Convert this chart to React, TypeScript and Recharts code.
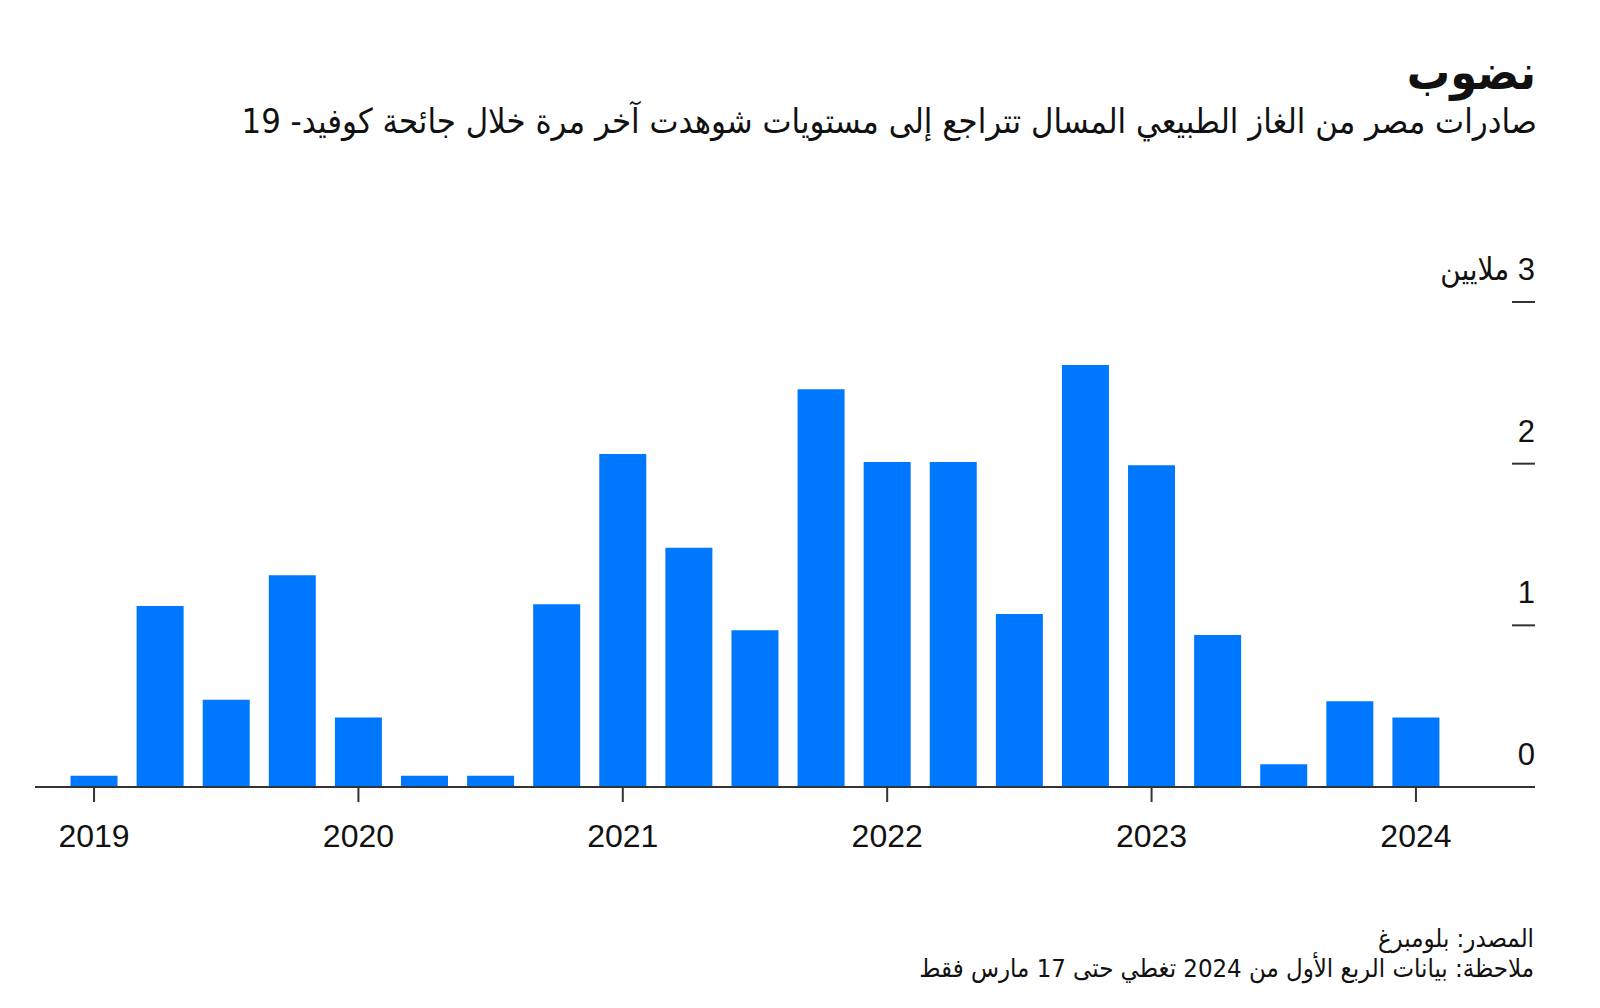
import { BarChart, Bar, XAxis, YAxis } from 'recharts';

// quarterly LNG exports, millions of tonnes
const quarters = [
    '2019 Q1', '2019 Q2', '2019 Q3', '2019 Q4',
    '2020 Q1', '2020 Q2', '2020 Q3', '2020 Q4',
    '2021 Q1', '2021 Q2', '2021 Q3', '2021 Q4',
    '2022 Q1', '2022 Q2', '2022 Q3', '2022 Q4',
    '2023 Q1', '2023 Q2', '2023 Q3', '2023 Q4',
    '2024 Q1',
];
const exportsValues = [
    0.07, 1.12, 0.54, 1.31,
    0.43, 0.07, 0.07, 1.13,
    2.06, 1.48, 0.97, 2.46,
    2.01, 2.01, 1.07, 2.61,
    1.99, 0.94, 0.14, 0.53,
    0.43,
];
const yearTicks = ['2019 Q1', '2020 Q1', '2021 Q1', '2022 Q1', '2023 Q1', '2024 Q1'];
const valueTicks = [0, 1, 2, 3];
const unitLabel = 'ملايين';

const title = 'نضوب';
const subtitle = 'صادرات مصر من الغاز الطبيعي المسال تتراجع إلى مستويات شوهدت آخر مرة خلال جائحة كوفيد- 19';
const source = 'المصدر: بلومبرغ';
const note = 'ملاحظة: بيانات الربع الأول من 2024 تغطي حتى 17 مارس فقط';

const data = quarters.map((q, i) => ({ q, value: exportsValues[i] }));

const arabicFont = "'DejaVu Sans Condensed', 'DejaVu Sans', sans-serif";
const numFont = "'Liberation Sans', Arial, sans-serif";
const ink = '#111';

const renderValueTick = (props: any) => {
    const { x, y, payload } = props;
    const label = payload.value === 3 ? `\u200F${payload.value} ${unitLabel}` : `${payload.value}`;
    return (
        <g key={`vt-${payload.value}`}>
            <line x1={x - 23} x2={x} y1={y} y2={y} stroke="#333" strokeWidth={2} />
            <text x={x} y={y - 22} textAnchor="end" fontSize={31} fill={ink} fontFamily={`${numFont}, ${arabicFont}`}>
                {label}
            </text>
        </g>
    );
};

const App = () => {
    return (
        <div style={{ position: 'absolute', left: 0, top: 0, width: 1600, height: 1008, background: '#fff' }}>
            <div dir="rtl" style={{ position: 'absolute', right: 64, top: 44, fontFamily: arabicFont, fontWeight: 'bold', fontSize: 48, color: ink, lineHeight: 1.2 }}>
                {title}
            </div>
            <div dir="rtl" style={{ position: 'absolute', right: 63, top: 101, fontFamily: arabicFont, fontSize: 34.3, color: ink, whiteSpace: 'nowrap', lineHeight: 1.2 }}>
                {subtitle}
            </div>

            <div style={{ position: 'absolute', left: 0, top: 0 }}>
                <BarChart
                    width={1600}
                    height={880}
                    data={data}
                    margin={{ top: 302, right: 64, bottom: 0, left: 35 }}
                    barCategoryGap="14.4%"
                >
                    <XAxis
                        dataKey="q"
                        ticks={yearTicks}
                        interval={0}
                        padding={{ left: 26, right: 86 }}
                        axisLine={{ stroke: '#333', strokeWidth: 2 }}
                        tickLine={{ stroke: '#333', strokeWidth: 2 }}
                        tickSize={15}
                        tickMargin={22}
                        height={93}
                        tick={{ fill: ink, fontSize: 32, fontFamily: numFont }}
                        tickFormatter={(q: string) => q.slice(0, 4)}
                    />
                    <YAxis
                        orientation="right"
                        width={1}
                        domain={[0, 3]}
                        ticks={valueTicks}
                        interval={0}
                        axisLine={false}
                        tickLine={false}
                        tickSize={0}
                        tickMargin={0}
                        tick={renderValueTick}
                    />
                    <Bar dataKey="value" fill="#0077ff" isAnimationActive={false} />
                </BarChart>
            </div>

            <div dir="rtl" style={{ position: 'absolute', right: 66, top: 924, fontFamily: arabicFont, fontSize: 25.5, color: ink, whiteSpace: 'nowrap', lineHeight: 1.17 }}>
                {source}
                <br />
                {note}
            </div>
        </div>
    );
};

export default App;
